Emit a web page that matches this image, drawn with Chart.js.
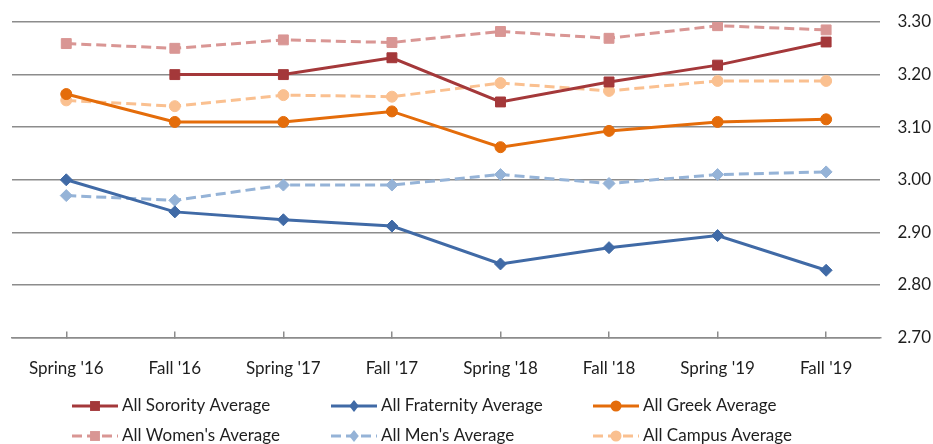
<!DOCTYPE html>
<html>
<head>
<meta charset="utf-8">
<script src="https://cdn.jsdelivr.net/npm/chart.js@4.4.1/dist/chart.umd.min.js"></script>
<style>
  html, body { margin: 0; padding: 0; background: #fff; overflow: hidden; }
</style>
</head>
<body>
<canvas id="gpaChart" width="933" height="444"></canvas>
<script>
const terms = ["Spring '16", "Fall '16", "Spring '17", "Fall '17", "Spring '18", "Fall '18", "Spring '19", "Fall '19"];

const sororityAvg   = [null, 3.200, 3.200, 3.232, 3.148, 3.186, 3.218, 3.262];
const fraternityAvg = [3.000, 2.939, 2.924, 2.912, 2.840, 2.871, 2.894, 2.828];
const greekAvg      = [3.163, 3.110, 3.110, 3.130, 3.062, 3.093, 3.110, 3.115];
const womenAvg      = [3.259, 3.250, 3.266, 3.261, 3.282, 3.269, 3.293, 3.285];
const menAvg        = [2.970, 2.961, 2.990, 2.990, 3.010, 2.993, 3.010, 3.015];
const campusAvg     = [3.151, 3.140, 3.161, 3.158, 3.184, 3.169, 3.188, 3.188];

const yMin = 2.7;
const yMax = 3.3;
const yStep = 0.1;

const FONT = "Lato, 'Open Sans', sans-serif";
const TEXT = '#1e1e1e';
const GRID = '#8c8c8c';

function series(label, data, color, pointStyle, radius, dashed) {
    return {
        label,
        data,
        borderColor: color,
        backgroundColor: color,
        pointBackgroundColor: color,
        pointBorderColor: color,
        pointStyle,
        pointRadius: radius,
        pointBorderWidth: 1,
        borderWidth: 3,
        borderDash: dashed ? [10, 5] : [],
        tension: 0,
        fill: false
    };
}

// legend drawn like the spreadsheet one: 3 fixed columns, line + marker
const lineLegend = {
    id: 'lineLegend',
    afterDraw(chart, args, opts) {
        const ctx = chart.ctx;
        ctx.save();
        ctx.font = opts.fontSize + 'px ' + FONT;
        ctx.textBaseline = 'middle';
        ctx.textAlign = 'left';
        chart.data.datasets.forEach((ds, i) => {
            const tx = opts.cols[i % 3];
            const y = opts.rows[Math.floor(i / 3)];
            const x0 = tx - 50, x1 = tx - 4, xm = (x0 + x1) / 2;
            ctx.strokeStyle = ds.borderColor;
            ctx.lineWidth = ds.borderWidth;
            ctx.setLineDash(ds.borderDash);
            ctx.beginPath();
            ctx.moveTo(x0, y);
            ctx.lineTo(x1, y);
            ctx.stroke();
            ctx.setLineDash([]);
            ctx.fillStyle = ds.borderColor;
            const r = ds.pointRadius;
            ctx.beginPath();
            if (ds.pointStyle === 'rect') {
                const s = r * Math.SQRT1_2;
                ctx.rect(xm - s, y - s, 2 * s, 2 * s);
            } else if (ds.pointStyle === 'rectRot') {
                ctx.moveTo(xm, y - r);
                ctx.lineTo(xm + r * 0.8, y);
                ctx.lineTo(xm, y + r);
                ctx.lineTo(xm - r * 0.8, y);
                ctx.closePath();
            } else {
                ctx.arc(xm, y, r, 0, Math.PI * 2);
            }
            ctx.fill();
            ctx.fillStyle = TEXT;
            ctx.fillText(ds.label, tx, y);
        });
        ctx.restore();
    }
};

new Chart(document.getElementById('gpaChart'), {
    type: 'line',
    data: {
        labels: terms,
        datasets: [
            series('All Sorority Average', sororityAvg, '#a4383a', 'rect', 7, false),
            series('All Fraternity Average', fraternityAvg, '#406aa6', 'rectRot', 6, false),
            series('All Greek Average', greekAvg, '#e46c0a', 'circle', 5.5, false),
            series("All Women's Average", womenAvg, '#d99694', 'rect', 7, true),
            series("All Men's Average", menAvg, '#95b3d7', 'rectRot', 6, true),
            series('All Campus Average', campusAvg, '#fac090', 'circle', 5.5, true)
        ]
    },
    options: {
        responsive: false,
        animation: false,
        layout: {
            padding: { top: 22, left: 12, right: 2, bottom: 38 }
        },
        plugins: {
            legend: { display: false },
            tooltip: { enabled: false },
            lineLegend: {
                cols: [122, 381, 643],
                rows: [406, 436],
                fontSize: 17
            }
        },
        scales: {
            x: {
                offset: true,
                grid: {
                    drawOnChartArea: false,
                    drawTicks: true,
                    tickLength: -6,
                    color: GRID,
                    lineWidth: 1.5
                },
                border: { display: true, color: GRID, width: 1.5 },
                ticks: {
                    padding: 27,
                    color: TEXT,
                    font: { family: FONT, size: 17 },
                    maxRotation: 0
                }
            },
            y: {
                position: 'right',
                min: yMin,
                max: yMax,
                grid: {
                    drawTicks: true,
                    tickLength: 17,
                    tickColor: 'rgba(0,0,0,0)',
                    color: GRID,
                    lineWidth: 1.5
                },
                border: { display: false },
                ticks: {
                    stepSize: yStep,
                    padding: 0,
                    color: TEXT,
                    font: { family: FONT, size: 17 },
                    callback: v => v.toFixed(2)
                }
            }
        }
    },
    plugins: [lineLegend]
});
</script>
</body>
</html>
